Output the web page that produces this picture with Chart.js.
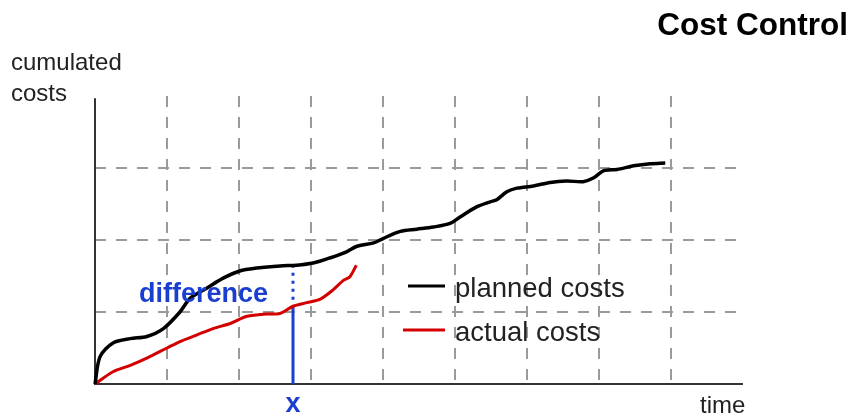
<!DOCTYPE html>
<html>
<head>
<meta charset="utf-8">
<script src="https://cdn.jsdelivr.net/npm/chart.js@4"></script>
<style>
  html, body { margin: 0; padding: 0; background: #fff; }
  #wrap { width: 854px; height: 416px; position: relative; }
</style>
</head>
<body>
<div id="wrap"><canvas id="cost-chart" width="854" height="416"></canvas></div>
<script>
// time (grid units) / cumulated costs (grid units)
const plannedTime  = [0, 0.07, 0.25, 0.49, 0.72, 0.95, 1.18, 1.32, 1.55, 1.78, 2.01, 2.25, 2.57, 2.80, 3.03, 3.26, 3.50, 3.63, 3.87, 4.00, 4.24, 4.47, 4.70, 4.93, 5.07, 5.30, 5.49, 5.58, 5.72, 5.86, 6.09, 6.32, 6.55, 6.78, 6.92, 7.06, 7.25, 7.48, 7.71, 7.92];
const plannedCosts = [0, 0.38, 0.57, 0.63, 0.66, 0.77, 1.00, 1.19, 1.33, 1.47, 1.57, 1.61, 1.64, 1.65, 1.68, 1.75, 1.84, 1.91, 1.96, 2.02, 2.12, 2.15, 2.18, 2.23, 2.32, 2.46, 2.53, 2.56, 2.67, 2.72, 2.75, 2.80, 2.82, 2.81, 2.86, 2.96, 2.98, 3.03, 3.06, 3.07];
const actualTime   = [0, 0.25, 0.49, 0.72, 1.00, 1.18, 1.41, 1.64, 1.88, 2.01, 2.11, 2.34, 2.57, 2.75, 2.94, 3.13, 3.31, 3.45, 3.54, 3.63];
const actualCosts  = [0, 0.17, 0.26, 0.36, 0.50, 0.59, 0.68, 0.77, 0.84, 0.90, 0.94, 0.97, 0.98, 1.08, 1.13, 1.18, 1.31, 1.44, 1.49, 1.65];
const seriesNames  = ["planned costs", "actual costs"];
const markerTime   = 2.75;  // the "x" point where the difference is read

const FONT = '"Liberation Sans", Arial, sans-serif';
const BLUE = '#1a3fd0';

function pairs(xs, ys) {
  return xs.map((x, i) => ({ x: x, y: ys[i] }));
}
function valueAt(xs, ys, t) {
  for (let i = 1; i < xs.length; i++) {
    if (t <= xs[i]) {
      const f = (t - xs[i - 1]) / (xs[i] - xs[i - 1]);
      return ys[i - 1] + f * (ys[i] - ys[i - 1]);
    }
  }
  return ys[ys.length - 1];
}

const decorations = {
  id: 'decorations',
  beforeDatasetsDraw(chart) {
    const { ctx, scales: { x, y } } = chart;
    ctx.save();
    ctx.strokeStyle = '#333';
    ctx.lineWidth = 2;
    ctx.beginPath();
    ctx.moveTo(x.getPixelForValue(0), y.getPixelForValue(3.97));
    ctx.lineTo(x.getPixelForValue(0), y.getPixelForValue(0));
    ctx.lineTo(x.getPixelForValue(9), y.getPixelForValue(0));
    ctx.stroke();

    // difference marker
    const mx = x.getPixelForValue(markerTime);
    const yA = y.getPixelForValue(valueAt(actualTime, actualCosts, markerTime));
    const yP = y.getPixelForValue(valueAt(plannedTime, plannedCosts, markerTime));
    ctx.strokeStyle = BLUE;
    ctx.lineWidth = 3;
    ctx.beginPath();
    ctx.moveTo(mx, y.getPixelForValue(0));
    ctx.lineTo(mx, yA);
    ctx.stroke();
    ctx.fillStyle = BLUE;
    for (let py = yA - 8; py > yP; py -= 8) {
      ctx.fillRect(mx - 1.5, py - 1.5, 3, 3);
    }
    ctx.restore();
  },
  afterDraw(chart) {
    const { ctx, scales: { x } } = chart;
    ctx.save();
    ctx.textBaseline = 'alphabetic';

    ctx.fillStyle = '#000';
    ctx.font = 'bold 31.5px ' + FONT;
    ctx.textAlign = 'right';
    ctx.fillText('Cost Control', 848, 35);

    ctx.fillStyle = '#222';
    ctx.font = '24px ' + FONT;
    ctx.textAlign = 'left';
    ctx.fillText('cumulated', 11, 70);
    ctx.fillText('costs', 11, 101);
    ctx.fillText('time', 700, 413);

    ctx.fillStyle = BLUE;
    ctx.font = 'bold 27px ' + FONT;
    ctx.textAlign = 'center';
    ctx.fillText('x', x.getPixelForValue(markerTime), 412);
    ctx.textAlign = 'right';
    ctx.fillText('difference', 268, 302);

    // legend
    const colors = ['#000', '#d40000'];
    const rows = [291, 335];
    ctx.font = '27.5px ' + FONT;
    ctx.textAlign = 'left';
    rows.forEach((ry, i) => {
      ctx.strokeStyle = colors[i];
      ctx.lineWidth = 3;
      ctx.beginPath();
      ctx.moveTo(i === 0 ? 408 : 403, ry - 5);
      ctx.lineTo(445, ry - 5);
      ctx.stroke();
      ctx.fillStyle = '#222';
      ctx.fillText(seriesNames[i], 455, ry + 6);
    });
    ctx.restore();
  }
};

new Chart(document.getElementById('cost-chart'), {
  type: 'line',
  data: {
    datasets: [
      {
        label: seriesNames[0],
        data: pairs(plannedTime, plannedCosts),
        borderColor: '#000',
        borderWidth: 3.5,
        pointRadius: 0,
        tension: 0.3,
        clip: false
      },
      {
        label: seriesNames[1],
        data: pairs(actualTime, actualCosts),
        borderColor: '#d40000',
        borderWidth: 3,
        pointRadius: 0,
        tension: 0.3,
        clip: false
      }
    ]
  },
  options: {
    responsive: false,
    animation: false,
    layout: { padding: { left: 95, top: 96, right: 111, bottom: 32 } },
    plugins: { legend: { display: false }, tooltip: { enabled: false } },
    scales: {
      x: {
        type: 'linear', min: 0, max: 9,
        ticks: { display: false, stepSize: 1 },
        grid: {
          drawTicks: false, lineWidth: 2,
          color: c => (c.tick && c.tick.value > 0 && c.tick.value < 9) ? '#9a9a9a' : 'rgba(0,0,0,0)'
        },
        border: { display: false, dash: [11, 10] },
        afterFit: s => { s.height = 0; }
      },
      y: {
        type: 'linear', min: 0, max: 4,
        ticks: { display: false, stepSize: 1 },
        grid: {
          drawTicks: false, lineWidth: 2,
          color: c => (c.tick && c.tick.value > 0 && c.tick.value < 4) ? '#9a9a9a' : 'rgba(0,0,0,0)'
        },
        border: { display: false, dash: [11, 10] },
        afterFit: s => { s.width = 0; }
      }
    }
  },
  plugins: [decorations]
});
</script>
</body>
</html>
